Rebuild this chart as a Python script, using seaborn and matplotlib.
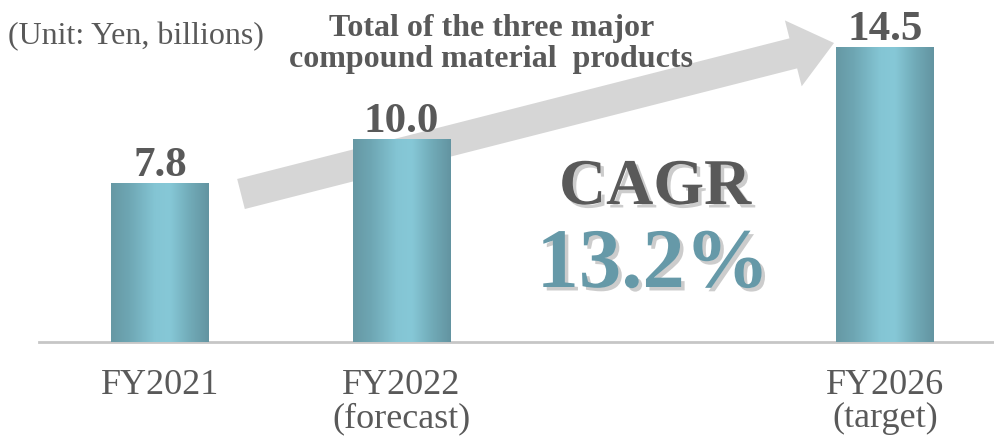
import numpy as np
import pandas as pd
import matplotlib
matplotlib.use("Agg")
import matplotlib.pyplot as plt
import matplotlib.patheffects as pe
from matplotlib.colors import LinearSegmentedColormap
from matplotlib.patches import FancyArrow
from matplotlib.transforms import Affine2D
import seaborn as sns

# ---- data ----
categories = ["FY2021", "FY2022\n(forecast)", " ", "FY2026\n(target)"]
plotted_categories = ["FY2021", "FY2022\n(forecast)", "FY2026\n(target)"]
values = [7.8, 10.0, 14.5]
value_labels = ["7.8", "10.0", "14.5"]
unit_text = "(Unit: Yen, billions)"
title_lines = ["Total of the three major", "compound material  products"]
cagr_label = "CAGR"
cagr_value = "13.2%"

W, H = 994, 439
sns.set_theme(style="white")
plt.rcParams["font.family"] = ["Liberation Serif", "DejaVu Serif"]

fig = plt.figure(figsize=(W / 100, H / 100), dpi=100)
ax = fig.add_axes([39 / W, (H - 343) / H, 1 - 39 / W, 325.4 / H])
ax.set_facecolor("none")

df = pd.DataFrame({"cat": plotted_categories, "val": values})
sns.barplot(data=df, x="cat", y="val", order=categories, ax=ax,
            width=0.403, color="#78b8c6", saturation=1, zorder=3)

ax.set_xlim(-0.5, 3.45)
ax.set_ylim(0, 16)

# gradient fill for bars
cmap = LinearSegmentedColormap.from_list("cyl", [
    (0.0, "#6698a4"), (0.18, "#6ea6b3"), (0.45, "#84c5d4"),
    (0.6, "#86c8d7"), (0.82, "#70a9b6"), (1.0, "#6394a1")])
grad = np.linspace(0, 1, 256).reshape(1, -1)
for p in ax.patches:
    x0, y0 = p.get_x(), p.get_y()
    w, h = p.get_width(), p.get_height()
    if not np.isfinite(h) or h == 0:
        continue
    im = ax.imshow(grad, cmap=cmap, aspect="auto",
                   extent=[x0, x0 + w, y0, y0 + h], zorder=3, interpolation="bicubic")
    im.set_clip_path(p)
    p.set_facecolor("none")
    p.set_edgecolor("none")
ax.set_xlim(-0.5, 3.45)
ax.set_ylim(0, 16)

# value labels
for cat, v, lab in zip(plotted_categories, values, value_labels):
    xi = categories.index(cat)
    ax.annotate(lab, (xi, v), xytext=(0, 8), textcoords="offset pixels",
                ha="center", va="baseline", fontsize=31, fontweight="bold",
                color="#595959", zorder=5)

# axes styling
for s in ["top", "right", "left"]:
    ax.spines[s].set_visible(False)
ax.spines["bottom"].set_color("#c6c6c6")
ax.spines["bottom"].set_linewidth(2)
ax.set_yticks([])
ax.set_xlabel("")
ax.set_ylabel("")
ax.tick_params(axis="x", length=0, pad=19, labelsize=26, labelcolor="#595959")
for t in ax.get_xticklabels():
    t.set_linespacing(1.0)

# pixel transform (top-left origin)
pix = Affine2D().scale(1 / W, -1 / H).translate(0, 1) + fig.transFigure

# growth arrow (annotation), behind the bars
arrow = FancyArrow(241, 195, 593, -151, width=31, head_width=68, head_length=42,
                   length_includes_head=True, transform=pix, color="#d6d6d6",
                   lw=0)
arrow.set_zorder(-1)
fig.add_artist(arrow)

# texts
fig.text(8 / W, 1 - 44 / H, unit_text, fontsize=23, color="#595959",
         ha="left", va="baseline")
fig.text(492 / W, 1 - 36 / H, title_lines[0], fontsize=23, fontweight="bold",
         color="#595959", ha="center", va="baseline")
fig.text(491 / W, 1 - 67 / H, title_lines[1], fontsize=23, fontweight="bold",
         color="#595959", ha="center", va="baseline")

shadow = [pe.SimplePatchShadow(offset=(2.5, -2.5), shadow_rgbFace="#9a9a9a", alpha=0.5), pe.Normal()]
fig.text(655 / W, 1 - 205 / H, cagr_label, fontsize=47, fontweight="bold",
         color="#595959", ha="center", va="baseline", path_effects=shadow)
fig.text(653 / W, 1 - 288 / H, cagr_value, fontsize=61, fontweight="bold",
         color="#6699a8", ha="center", va="baseline", path_effects=shadow)

fig.savefig("out.png", dpi=100)
